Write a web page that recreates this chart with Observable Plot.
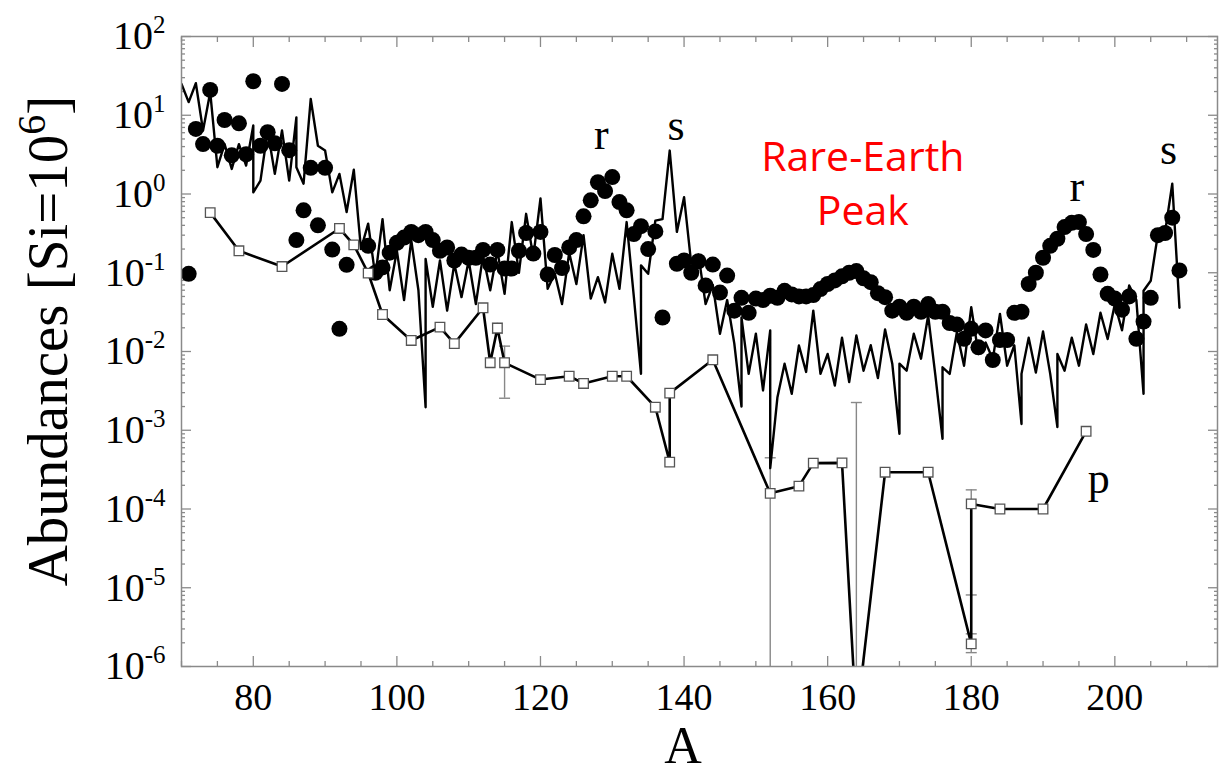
<!DOCTYPE html>
<html><head><meta charset="utf-8">
<script src="https://cdn.jsdelivr.net/npm/d3@7"></script>
<script src="https://cdn.jsdelivr.net/npm/@observablehq/plot@0.6"></script>
<style>html,body{margin:0;padding:0;background:#fff}#chart svg{display:block}</style>
</head><body><div id="chart"></div>
<script>
// ---- s-process curve (solid line); repeated A = isobars
const sA = [70,71,72,73,74,75,76,77,78,79,
  80,80,81,82,83,84,85,86,86,87,88,89,
  90,91,92,93,94,95,96,97,98,99,
  100,101,102,103,104,104,105,106,107,108,109,
  110,111,112,113,114,115,116,117,118,119,
  120,121,122,123,124,125,126,127,128,129,
  130,131,132,133,134,134,135,136,137,138,139,
  140,141,142,143,144,145,146,147,148,148,149,
  150,151,152,152,153,154,155,156,157,158,159,
  160,161,162,163,164,165,166,167,168,169,
  170,170,171,172,173,174,175,176,176,177,178,179,
  180,181,182,183,184,185,186,187,187,188,189,
  190,191,192,192,193,194,195,196,197,198,199,
  200,201,202,203,204,204,205,206,207,208,209];
const sV = [25,14.7,25.5,6.4,19.6,2.19,4.3,2.08,4.3,2.3,
  7.4,1.05,1.48,6.4,1.8,6.4,1.48,9.4,2.19,1.35,16.1,4.1,
  3.57,1.05,1.8,0.59,2.03,0.2,0.42,0.09,0.48,0.06,
  0.19,0.045,0.26,0.06,0.00196,0.15,0.037,0.143,0.033,0.13,0.049,
  0.143,0.04,0.166,0.06,0.19,0.054,0.44,0.10,0.56,0.158,
  0.88,0.0625,0.098,0.04,0.18,0.072,0.30,0.047,0.088,0.042,
  0.174,0.0625,0.44,0.05,0.0052,0.124,0.097,0.46,0.48,3.56,0.33,
  0.91,0.13,0.17,0.04,0.07,0.0168,0.045,0.0126,0.002,0.027,0.0052,
  0.0168,0.0032,0.0185,0.00033,0.0026,0.007,0.0029,0.0119,0.0055,0.033,0.0052,
  0.0093,0.0037,0.015,0.0041,0.016,0.0057,0.012,0.0046,0.019,0.007,
  0.0009,0.007,0.0057,0.0168,0.0081,0.0286,0.005,0.00078,0.0063,0.0052,0.0176,0.0066,
  0.0366,0.0093,0.013,0.008,0.03,0.0066,0.012,0.0012,0.0052,0.015,0.0054,
  0.018,0.0052,0.0011,0.0093,0.0057,0.015,0.0066,0.022,0.0093,0.031,0.0144,
  0.040,0.0186,0.069,0.045,0.0029,0.059,0.079,0.31,0.33,1.35,0.036];

// ---- r-process residuals (filled circles)
const rA = [71,72,73,74,75,76,77,78,79,80,
  81,82,83,84,85,86,87,88,89,90,
  91,92,93,
  96,97,98,99,100,101,102,103,104,105,
  106,107,108,109,110,111,112,113,114,115,
  116,117,118,119,120,121,122,123,124,125,
  126,127,128,129,130,131,132,133,134,135,
  136,137,
  139,140,141,142,143,144,145,146,147,148,
  149,150,151,152,153,154,155,156,157,158,
  159,160,161,162,163,164,165,166,167,168,
  169,170,171,172,173,174,175,176,177,178,
  179,180,181,182,183,184,185,186,187,188,
  189,190,191,192,193,194,195,196,197,198,
  199,200,201,202,203,204,205,206,207,208,209];
const rV = [0.097,6.7,4.3,21,4.1,8.7,3.1,7.9,3.2,27,
  4.1,6.1,4.4,25,3.6,0.26,0.62,2.15,0.40,2.15,
  0.197,0.0194,0.126,
  0.22,0.10,0.117,0.18,0.24,0.28,0.33,0.30,0.33,0.26,
  0.19,0.21,0.143,0.17,0.155,0.155,0.195,0.127,0.195,0.113,
  0.113,0.19,0.32,0.175,0.33,0.095,0.168,0.115,0.21,0.26,
  0.52,0.83,1.41,1.09,1.64,0.79,0.62,0.31,0.39,0.20,
  0.335,0.027,
  0.13,0.143,0.10,0.14,0.069,0.127,0.056,0.092,0.033,0.048,
  0.031,0.047,0.045,0.051,0.048,0.059,0.053,0.05,0.05,0.052,
  0.062,0.072,0.080,0.090,0.10,0.105,0.085,0.076,0.055,0.049,
  0.033,0.037,0.031,0.037,0.032,0.040,0.032,0.032,0.023,0.022,
  0.0145,0.0194,0.0113,0.0185,0.0078,0.014,0.014,0.031,0.032,0.072,
  0.10,0.155,0.22,0.27,0.38,0.43,0.44,0.31,0.195,0.095,
  0.054,0.047,0.034,0.05,0.0145,0.024,0.048,0.30,0.32,0.50,0.107];

// ---- p-process (open squares, connected)
const pA = [74,78,84,92,94,96,98,102,106,108,112,113,114,115,120,124,126,130,132,136,
  138,138,144,152,156,158,162,164,168,174,180,180,184,190,196];
const pV = [0.58,0.19,0.12,0.365,0.226,0.099,0.0295,0.0138,0.0204,0.0126,0.0359,0.0072,0.0198,0.0072,0.0044,0.00485,0.00393,0.00485,0.00485,0.00196,
  0.000394,0.00296,0.00785,0.000158,0.000195,0.000382,0.000385,2e-7,0.000293,0.000293,1.94e-6,0.000116,0.0001,0.0001,0.00097];

// ---- p-process error bars
const eA  = [114,115,152,164,180,180];
const eLo = [0.017,0.00255,1e-8,1e-8,8.1e-6,1.5e-6];
const eHi = [0.0229,0.0117,0.000447,0.00225,0.000175,2.6e-6];

// ---- annotations
const annText = ["r","s","r","s","p"];
const annA = [128.46,138.9,194.7,207.5,197.76];
const annV = [5.68,7.25,1.22,3.59,2.38e-4];
const redText = ["Rare-Earth\nPeak"];
const redA = [164.9];
const redV = [1.48];

// ---- ticks
const xMajor = [80,100,120,140,160,180,200];
const xMinor = [70,75,85,90,95,105,110,115,125,130,135,145,150,155,165,170,175,185,190,195,205,210];
const yMajor = [1e-6,1e-5,1e-4,1e-3,1e-2,1e-1,1,10,100];
const yMinor = [];
for (const d of yMajor.slice(0,-1)) for (let m = 2; m <= 9; m++) yMinor.push(d*m);

const sData = sA.map((a,i)=>({A:a, v:sV[i]}));
const rData = rA.map((a,i)=>({A:a, v:rV[i]}));
const pData = pA.map((a,i)=>({A:a, v:pV[i]}));
const eData = eA.map((a,i)=>({A:a, lo:eLo[i], hi:eHi[i]}));
const capData = eData.flatMap(d=>[{A:d.A, v:d.lo},{A:d.A, v:d.hi}]);
const annData = annText.map((t,i)=>({t, A:annA[i], v:annV[i]}));
const redData = redText.map((t,i)=>({t, A:redA[i], v:redV[i]}));

const capSymbol = {draw(ctx, size){ const w = Math.sqrt(size/Math.PI); ctx.moveTo(-w,0); ctx.lineTo(w,0); }};
const AX = "#8a8a8a";
const serif = "Liberation Serif";

const tickAxes = [
  Plot.axisX({anchor:"bottom", ticks:xMajor, tickSize:-10, fill:"none", stroke:AX, strokeWidth:1.3, label:null}),
  Plot.axisX({anchor:"bottom", ticks:xMinor, tickSize:-5, fill:"none", stroke:AX, strokeWidth:1.3, label:null}),
  Plot.axisX({anchor:"top", ticks:xMajor, tickSize:-10, fill:"none", stroke:AX, strokeWidth:1.3, label:null}),
  Plot.axisX({anchor:"top", ticks:xMinor, tickSize:-5, fill:"none", stroke:AX, strokeWidth:1.3, label:null}),
  Plot.axisY({anchor:"left", ticks:yMajor, tickSize:-10, fill:"none", stroke:AX, strokeWidth:1.3, label:null}),
  Plot.axisY({anchor:"left", ticks:yMinor, tickSize:-4, fill:"none", stroke:AX, strokeWidth:1.3, label:null}),
  Plot.axisY({anchor:"right", ticks:yMajor, tickSize:-10, fill:"none", stroke:AX, strokeWidth:1.3, label:null}),
  Plot.axisY({anchor:"right", ticks:yMinor, tickSize:-4, fill:"none", stroke:AX, strokeWidth:1.3, label:null})
];

const chart = Plot.plot({
  width: 1220, height: 776,
  marginLeft: 181, marginRight: 3, marginTop: 36, marginBottom: 110,
  style: {background:"#fff", fontFamily: serif, color:"#000"},
  x: {domain:[70,214.3], label:null},
  y: {type:"log", domain:[1e-6,100], label:null},
  marks: [
    ...tickAxes,
    Plot.axisX({anchor:"bottom", ticks:xMajor, tickSize:0, tickPadding:17, fontSize:38, fontFamily:serif, fill:"#000", label:null}),
    Plot.axisY({anchor:"left", ticks:yMajor, tickSize:0, tickPadding:16, fontSize:40, fontFamily:serif, fill:"#000", label:null,
      tickFormat: d => String(Math.round(Math.log10(d)))}),
    Plot.ruleX(eData, {x:"A", y1:"lo", y2:"hi", stroke:"#888", strokeWidth:1.4, clip:true}),
    Plot.dot(capData, {x:"A", y:"v", r:5.5, symbol:capSymbol, stroke:"#888", strokeWidth:1.4, fill:"none", clip:true}),
    Plot.line(pData, {x:"A", y:"v", stroke:"#000", strokeWidth:2.6, curve:"linear", clip:true}),
    Plot.line(sData, {x:"A", y:"v", stroke:"#000", strokeWidth:2.4, curve:"linear", clip:true}),
    Plot.dot(rData, {x:"A", y:"v", r:8, fill:"#000", stroke:"none", clip:true}),
    Plot.dot(pData, {x:"A", y:"v", r:5.4, symbol:"square", fill:"#fff", stroke:"#555", strokeWidth:1.3, clip:true}),
    Plot.text(annData, {x:"A", y:"v", text:"t", fontSize:44, fontFamily:serif, fill:"#000"}),
    Plot.text(redData, {x:"A", y:"v", text:"t", fontSize:41, fontFamily:"Open Sans", fill:"#ff0000", lineHeight:1.33}),
    Plot.frame({stroke:AX, strokeWidth:1.5})
  ]
});

// superscript exponents on y tick labels
d3.select(chart).selectAll('g[aria-label="y-axis tick label"] text').each(function(){
  const e = this.textContent;
  const t = d3.select(this);
  t.text(null);
  t.append("tspan").text("10");
  t.append("tspan").attr("font-size", 25).attr("dy", -16).text(e);
});

const svg = d3.select(chart);
// y-axis title
const yt = svg.append("text")
  .attr("transform", "translate(67,341) rotate(-90)")
  .attr("text-anchor", "middle")
  .attr("font-family", serif).attr("font-size", 57).attr("fill", "#000");
yt.append("tspan").text("Abundances [Si=10");
yt.append("tspan").attr("font-size", 40).attr("dy", -22).text("6");
yt.append("tspan").attr("dy", 22).text("]");
// x-axis title
svg.append("text").attr("x", 683).attr("y", 763).attr("text-anchor", "middle")
  .attr("font-family", serif).attr("font-size", 52).attr("fill", "#000").text("A");

document.getElementById("chart").appendChild(chart);
</script></body></html>
